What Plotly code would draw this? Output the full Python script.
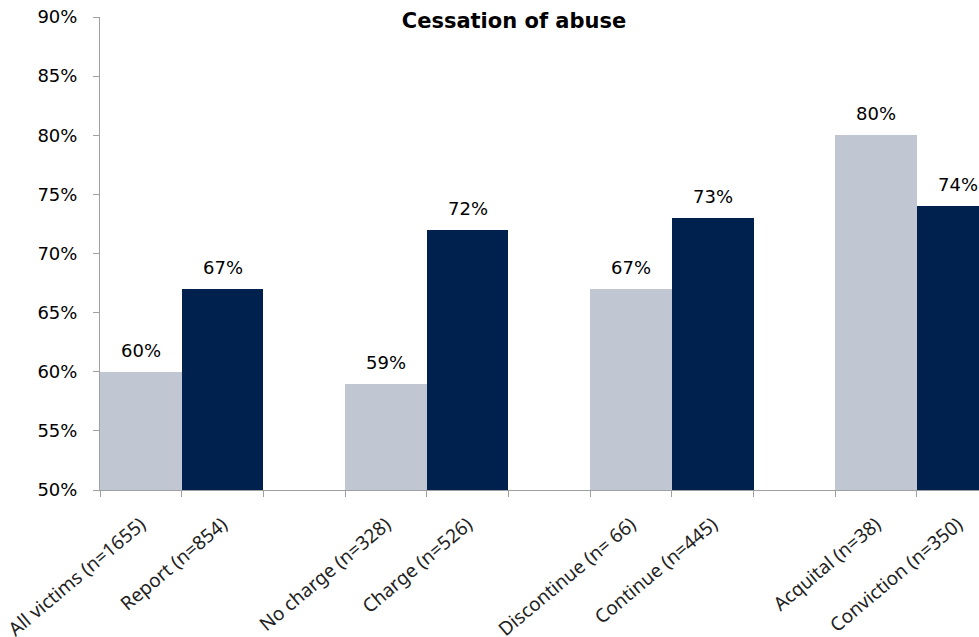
import plotly.graph_objects as go

categories = ["All victims (n=1655)", "Report (n=854)", " ",
              "No charge (n=328)", "Charge (n=526)", "  ",
              "Discontinue (n= 66)", "Continue (n=445)", "   ",
              "Acquital (n=38)", "Conviction (n=350)"]
values = [60, 67, None, 59, 72, None, 67, 73, None, 80, 74]
light = "#C0C7D3"
dark = "#00214D"
colors = [light, dark, light, light, dark, light, light, dark, light, light, dark]

fig = go.Figure(go.Bar(
    x=categories, y=values,
    marker=dict(color=colors, line=dict(width=0)),
    hoverinfo="x+y",
))

for c, v in zip(categories, values):
    if v is None:
        continue
    fig.add_annotation(x=c, y=v, text=f"{v}%", showarrow=False,
                       xanchor="center", yanchor="bottom", yshift=9,
                       font=dict(family="DejaVu Sans", size=18, color="black"))

fig.update_layout(
    width=979, height=637,
    margin=dict(l=100, r=0, t=17, b=147, autoexpand=False),
    paper_bgcolor="white", plot_bgcolor="white",
    bargap=0, showlegend=False,
    title=dict(text="<b>Cessation of abuse</b>", x=514/979, xref="container", xanchor="center",
               y=1 - 21/637, yref="container", yanchor="middle",
               font=dict(family="DejaVu Sans", size=21, color="black")),
)
fig.update_xaxes(
    type="category", tickson="boundaries", ticks="outside", ticklen=6, tickcolor="#A0A0A0",
    showline=True, linecolor="#A0A0A0", linewidth=1, showgrid=False,
    tickangle=-40, tickfont=dict(family="Noto Sans", size=19, color="#222222"),
    ticklabelstandoff=15, automargin=False,
    range=[-0.5, 10.26],
)
fig.update_yaxes(
    range=[50, 90], tick0=50, dtick=5, ticksuffix="%",
    ticks="outside", ticklen=6, tickcolor="#A0A0A0",
    showline=True, linecolor="#A0A0A0", linewidth=1, showgrid=False, zeroline=False,
    tickfont=dict(family="DejaVu Sans", size=18, color="black"),
    ticklabelstandoff=12, automargin=False,
)
fig.write_html("out.html")
